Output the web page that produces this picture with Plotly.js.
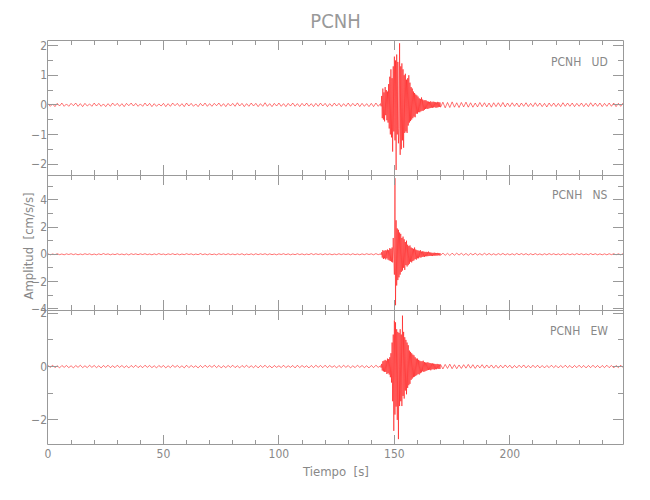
<!DOCTYPE html>
<html>
<head>
<meta charset="utf-8">
<script src="https://cdn.plot.ly/plotly-3.0.1.min.js"></script>
<style>html,body{margin:0;padding:0;background:#fff}#chart{width:650px;height:500px}</style>
</head>
<body>
<div id="chart"></div>
<script>
// Sample grid (seconds)
const quietStep = 1;
const eventStart = 144;
const eventStep = 0.25;
const postStart = 170;
const xRange = [0, 249];
const xTickLabels = ["0", "50", "100", "150", "200"];
const xTickVals = [0, 50, 100, 150, 200];

const stationName = "PCNH";
const channels = ["UD", "NS", "EW"];

// ---------- UD (vertical) ----------
const udPre = [
0.04,-0.05,0.03,-0.06,0.05,-0.04,0.06,-0.05,0.03,-0.05,
0.05,-0.03,0.06,-0.05,0.04,-0.06,0.05,-0.04,0.03,-0.05,
0.06,-0.04,0.05,-0.05,0.03,-0.06,0.04,-0.05,0.06,-0.03,
0.05,-0.05,0.04,-0.06,0.05,-0.03,0.06,-0.04,0.05,-0.05,
0.03,-0.05,0.06,-0.04,0.05,-0.06,0.04,-0.05,0.03,-0.04,
0.05,-0.06,0.04,-0.05,0.06,-0.03,0.05,-0.05,0.04,-0.06,
0.06,-0.04,0.05,-0.05,0.03,-0.06,0.05,-0.04,0.06,-0.05,
0.04,-0.05,0.05,-0.03,0.06,-0.05,0.04,-0.06,0.05,-0.04,
0.05,-0.05,0.07,-0.04,0.05,-0.06,0.04,-0.05,0.06,-0.04,
0.05,-0.06,0.04,-0.05,0.07,-0.05,0.04,-0.06,0.05,-0.04,
0.06,-0.05,0.04,-0.06,0.05,-0.04,0.06,-0.05,0.04,-0.06,
0.05,-0.04,0.06,-0.05,0.04,-0.06,0.05,-0.05,0.06,-0.04,
0.05,-0.06,0.04,-0.05,0.06,-0.04,0.05,-0.06,0.04,-0.05,
0.06,-0.05,0.05,-0.04,0.06,-0.06,0.05,-0.05,0.04,-0.06,
0.05,-0.06,0.06,-0.05,0.04];
const udEvent = [
0.04,-0.05,0.3,-0.45,0.55,-0.5,0.42,-0.56,
0.6,-0.35,0.5,-0.52,0.45,-0.6,0.7,-0.8,
0.95,-1.0,1.2,-1.1,0.9,-1.58,1.3,-0.9,
1.63,-1.2,1.5,-2.2,1.7,-1.0,1.45,-1.3,
-0.8,2.08,-1.69,1.3,-1.5,1.4,-1.2,1.2,
-1.45,1.0,-0.95,1.05,-0.9,0.85,-0.95,0.9,
-0.7,1.0,-0.6,0.75,-0.55,0.6,-0.5,0.55,
-0.45,0.45,-0.4,0.4,-0.42,0.35,-0.3,0.32,
-0.3,0.28,-0.25,0.22,-0.25,0.2,-0.22,0.25,
-0.2,0.18,-0.2,0.15,-0.17,0.16,-0.14,0.15,
-0.13,0.12,-0.14,0.11,-0.12,0.1,-0.11,0.12,
-0.1,0.09,-0.1,0.11,-0.09,0.1,-0.08,0.09,
-0.1,0.08,-0.09,0.1,-0.08,0.09,-0.07,0.08,
-0.08];
const udPost = [
-0.08,0.09,-0.1,0.08,-0.09,0.1,-0.08,0.07,-0.09,0.08,
-0.07,0.09,-0.08,0.07,-0.08,0.06,-0.07,0.08,-0.06,0.07,
-0.07,0.06,-0.08,0.07,-0.06,0.07,-0.06,0.08,-0.07,0.06,
-0.06,0.07,-0.05,0.06,-0.07,0.06,-0.05,0.07,-0.06,0.05,
-0.06,0.07,-0.05,0.06,-0.06,0.05,-0.07,0.06,-0.05,0.06,
-0.06,0.05,-0.06,0.07,-0.05,0.06,-0.05,0.06,-0.06,0.05,
-0.05,0.06,-0.06,0.05,-0.06,0.07,-0.05,0.06,-0.05,0.06,
-0.06,0.05,-0.05,0.06,-0.05,0.06,-0.06,0.05,-0.05,0.06];

// ---------- NS ----------
const nsPre = [
0.03,-0.04,0.02,-0.03,0.04,-0.03,0.02,-0.04,0.03,-0.02,
0.04,-0.03,0.03,-0.04,0.02,-0.03,0.04,-0.02,0.03,-0.04,
0.02,-0.04,0.03,-0.03,0.05,-0.02,0.03,-0.04,0.02,-0.03,
0.04,-0.03,0.02,-0.04,0.03,-0.05,0.04,-0.02,0.03,-0.03,
0.03,-0.02,0.04,-0.03,0.02,-0.04,0.03,-0.03,0.05,-0.02,
0.02,-0.04,0.03,-0.02,0.04,-0.03,0.03,-0.04,0.02,-0.03,
0.04,-0.02,0.03,-0.04,0.02,-0.03,0.05,-0.03,0.03,-0.04,
0.03,-0.03,0.02,-0.04,0.04,-0.02,0.03,-0.03,0.04,-0.03,
0.02,-0.04,0.03,-0.03,0.04,-0.05,0.02,-0.03,0.03,-0.04,
0.04,-0.03,0.03,-0.02,0.04,-0.04,0.03,-0.03,0.02,-0.04,
0.03,-0.02,0.04,-0.03,0.03,-0.04,0.02,-0.03,0.04,-0.03,
0.03,-0.04,0.02,-0.03,0.05,-0.03,0.04,-0.02,0.03,-0.04,
0.04,-0.03,0.03,-0.04,0.02,-0.03,0.04,-0.03,0.03,-0.02,
0.03,-0.04,0.04,-0.03,0.02,-0.04,0.03,-0.03,0.04,-0.02,
0.03,-0.04,0.05,-0.03,0.03];
const nsEvent = [
0.03,-0.04,0.15,-0.25,0.3,-0.35,0.25,-0.3,
0.3,-0.38,0.28,-0.3,0.35,-0.4,0.3,-0.45,
0.45,-0.5,0.4,-0.55,0.5,-0.6,1.2,-1.0,
-1.5,5.6,-3.75,2.5,-2.3,1.9,-1.9,1.8,
-1.7,1.6,-1.5,1.5,-1.3,1.2,-1.2,1.3,
-1.0,1.1,-1.15,0.9,-0.8,1.0,-0.9,0.7,
-0.8,0.6,-0.7,0.65,-0.55,0.5,-0.6,0.45,
-0.5,0.4,-0.45,0.5,-0.35,0.35,-0.4,0.3,
-0.3,0.28,-0.3,0.25,-0.22,0.3,-0.25,0.2,
-0.2,0.22,-0.18,0.2,-0.2,0.17,-0.15,0.18,
-0.15,0.16,-0.14,0.2,-0.13,0.14,-0.12,0.13,
-0.12,0.11,-0.13,0.1,-0.1,0.12,-0.11,0.1,
-0.1,0.09,-0.1,0.1,-0.08,0.09,-0.09,0.08,
-0.08];
const nsPost = [
-0.08,0.09,-0.08,0.07,-0.09,0.08,-0.07,0.08,-0.06,0.07,
-0.07,0.06,-0.08,0.06,-0.05,0.07,-0.06,0.05,-0.06,0.07,
-0.05,0.06,-0.05,0.04,-0.06,0.05,-0.04,0.06,-0.05,0.04,
-0.05,0.04,-0.05,0.06,-0.04,0.05,-0.04,0.05,-0.05,0.04,
-0.04,0.05,-0.04,0.03,-0.05,0.04,-0.04,0.05,-0.03,0.04,
-0.04,0.03,-0.05,0.04,-0.03,0.04,-0.04,0.03,-0.04,0.05,
-0.03,0.04,-0.04,0.03,-0.04,0.05,-0.03,0.04,-0.04,0.03,
-0.04,0.03,-0.04,0.04,-0.03,0.04,-0.04,0.03,-0.04,0.04];

// ---------- EW ----------
const ewPre = [
0.04,-0.03,0.05,-0.04,0.03,-0.05,0.04,-0.03,0.04,-0.04,
0.03,-0.05,0.04,-0.03,0.05,-0.04,0.03,-0.04,0.05,-0.03,
0.04,-0.04,0.03,-0.05,0.04,-0.03,0.05,-0.04,0.03,-0.04,
0.05,-0.03,0.04,-0.04,0.03,-0.05,0.04,-0.03,0.05,-0.04,
0.03,-0.04,0.05,-0.03,0.04,-0.04,0.03,-0.05,0.04,-0.03,
0.04,-0.05,0.03,-0.04,0.05,-0.03,0.04,-0.04,0.03,-0.05,
0.05,-0.04,0.04,-0.03,0.03,-0.05,0.04,-0.04,0.05,-0.03,
0.04,-0.03,0.05,-0.04,0.04,-0.05,0.03,-0.04,0.04,-0.03,
0.05,-0.04,0.03,-0.05,0.04,-0.03,0.05,-0.04,0.03,-0.04,
0.04,-0.05,0.04,-0.03,0.05,-0.04,0.03,-0.05,0.04,-0.03,
0.03,-0.04,0.05,-0.04,0.03,-0.03,0.04,-0.05,0.05,-0.04,
0.04,-0.03,0.03,-0.05,0.04,-0.04,0.05,-0.03,0.04,-0.04,
0.05,-0.04,0.04,-0.03,0.03,-0.05,0.04,-0.04,0.05,-0.03,
0.04,-0.05,0.03,-0.04,0.05,-0.03,0.04,-0.04,0.03,-0.05,
0.04,-0.04,0.05,-0.03,0.03];
const ewEvent = [
0.03,-0.04,0.1,-0.15,0.2,-0.18,0.22,-0.2,
0.25,-0.2,0.22,-0.28,0.3,-0.25,0.28,-0.3,
0.35,-0.4,0.5,-0.6,0.9,-1.3,1.2,-2.41,
1.73,-1.8,1.66,-1.5,1.4,-2.0,1.3,-2.72,
1.26,-1.48,1.4,-1.3,1.2,-1.48,1.91,-1.1,
1.3,-1.2,1.1,-0.9,1.0,-1.04,0.9,-0.8,
0.8,-0.7,0.6,-0.65,0.55,-0.5,0.5,-0.45,
0.45,-0.4,0.42,-0.38,0.35,-0.35,0.3,-0.32,
0.3,-0.28,0.25,-0.3,0.22,-0.25,0.2,-0.22,
0.2,-0.18,0.22,-0.2,0.17,-0.18,0.15,-0.16,
0.15,-0.14,0.16,-0.13,0.14,-0.12,0.13,-0.14,
0.12,-0.11,0.12,-0.1,0.11,-0.12,0.1,-0.1,
0.09,-0.1,0.1,-0.08,0.09,-0.09,0.08,-0.09,
0.08];
const ewPost = [
0.08,-0.09,0.08,-0.07,0.09,-0.08,0.07,-0.08,0.06,-0.07,
0.07,-0.06,0.08,-0.06,0.07,-0.07,0.06,-0.05,0.07,-0.06,
0.06,-0.05,0.06,-0.06,0.05,-0.06,0.05,-0.05,0.06,-0.04,
0.05,-0.06,0.04,-0.05,0.05,-0.04,0.06,-0.05,0.04,-0.05,
0.05,-0.04,0.05,-0.05,0.04,-0.05,0.04,-0.04,0.05,-0.04,
0.04,-0.05,0.04,-0.04,0.05,-0.04,0.04,-0.05,0.04,-0.04,
0.05,-0.04,0.04,-0.05,0.04,-0.04,0.05,-0.04,0.04,-0.05,
0.04,-0.04,0.05,-0.04,0.04,-0.05,0.04,-0.04,0.05,-0.04];

const channelData = [
  {pre: udPre, ev: udEvent, post: udPost, x: 'x',  y: 'y'},
  {pre: nsPre, ev: nsEvent, post: nsPost, x: 'x2', y: 'y2'},
  {pre: ewPre, ev: ewEvent, post: ewPost, x: 'x3', y: 'y3'}
];

const traces = [];
channelData.forEach(c => {
  const base = {type: 'scatter', mode: 'lines', xaxis: c.x, yaxis: c.y,
    line: {color: '#ff0000', width: 0.55}, showlegend: false, hoverinfo: 'skip'};
  traces.push(Object.assign({}, base, {y: c.pre,  x0: 0,          dx: quietStep}));
  traces.push(Object.assign({}, base, {y: c.ev,   x0: eventStart, dx: eventStep}));
  traces.push(Object.assign({}, base, {y: c.post, x0: postStart,  dx: quietStep}));
});

const FONT = 'Liberation Sans Narrow, DejaVu Sans Condensed, Arial Narrow, sans-serif';
const AX = '#999999';
const TXT = '#888888';

function xAxis(anchor, showLabels) {
  return {
    domain: [0, 1], anchor: anchor, range: xRange, autorange: false,
    showline: false, mirror: 'ticks',
    ticks: 'inside', ticklen: 10, tickwidth: 1, tickcolor: AX,
    tickvals: xTickVals, ticktext: xTickLabels,
    minor: {ticks: 'inside', ticklen: 5, tickwidth: 1, tickcolor: AX, dtick: 10, tick0: 0, showgrid: false},
    showticklabels: showLabels, showgrid: false, zeroline: false,
    tickfont: {family: FONT, size: 12, color: TXT}
  };
}
function yAxis(anchor, domain, range, dtick, mdtick) {
  return {
    domain: domain, anchor: anchor, range: range, autorange: false,
    showline: false, mirror: 'ticks',
    ticks: 'inside', ticklen: 10, tickwidth: 1, tickcolor: AX,
    dtick: dtick, tick0: 0,
    minor: {ticks: 'inside', ticklen: 5, tickwidth: 1, tickcolor: AX, dtick: mdtick, tick0: 0, showgrid: false},
    showgrid: false, zeroline: false,
    tickfont: {family: FONT, size: 12, color: TXT}
  };
}

const panelDomains = [[2/3, 1], [1/3, 2/3], [0, 1/3]];
// frame: one outer box plus the two panel separators (half-pixel aligned)
const pxX = 575, pxY = 405;
const shapes = [
  {type: 'rect', xref: 'paper', yref: 'paper', x0: -0.5 / pxX, x1: 1 + 0.5 / pxX, y0: 0.5 / pxY, y1: 1 - 0.5 / pxY,
   line: {color: AX, width: 1}, fillcolor: 'rgba(0,0,0,0)', layer: 'above'},
  {type: 'line', xref: 'paper', yref: 'paper', x0: 0, x1: 1, y0: 1/3 - 0.5 / pxY, y1: 1/3 - 0.5 / pxY,
   line: {color: AX, width: 1}, layer: 'above'},
  {type: 'line', xref: 'paper', yref: 'paper', x0: 0, x1: 1, y0: 2/3 - 0.5 / pxY, y1: 2/3 - 0.5 / pxY,
   line: {color: AX, width: 1}, layer: 'above'}
];

const nb = '\u00a0\u00a0\u00a0';
const layout = {
  width: 650, height: 500,
  margin: {l: 48, r: 27, t: 40, b: 55},
  paper_bgcolor: '#ffffff', plot_bgcolor: '#ffffff',
  font: {family: FONT, color: TXT},
  title: {text: stationName, x: 0.5, xref: 'paper', y: 0.958, yref: 'container', yanchor: 'middle',
          font: {family: FONT, size: 20, color: '#999999'}},
  xaxis: xAxis('y', false),
  xaxis2: xAxis('y2', false),
  xaxis3: xAxis('y3', true),
  yaxis: yAxis('x', panelDomains[0], [-2.37, 2.19], 1, 0.5),
  yaxis2: yAxis('x2', panelDomains[1], [-4.1, 5.83], 2, 1),
  yaxis3: yAxis('x3', panelDomains[2], [-2.94, 2.12], 2, 1),
  shapes: shapes,
  annotations: [
    {text: stationName + nb + channels[0], xref: 'paper', yref: 'paper', x: 0.978, y: 0.946, xanchor: 'right', yanchor: 'middle', showarrow: false, font: {family: FONT, size: 12, color: TXT}},
    {text: stationName + nb + channels[1], xref: 'paper', yref: 'paper', x: 0.978, y: 0.617, xanchor: 'right', yanchor: 'middle', showarrow: false, font: {family: FONT, size: 12, color: TXT}},
    {text: stationName + nb + channels[2], xref: 'paper', yref: 'paper', x: 0.978, y: 0.281, xanchor: 'right', yanchor: 'middle', showarrow: false, font: {family: FONT, size: 12, color: TXT}},
    {text: 'Tiempo  [s]', xref: 'paper', yref: 'paper', x: 0.5, y: -0.066, xanchor: 'center', yanchor: 'middle', showarrow: false, font: {family: FONT, size: 13, color: TXT}},
    {text: 'Amplitud  [cm/s/s]', xref: 'paper', yref: 'paper', x: -0.033, y: 0.49, xanchor: 'center', yanchor: 'middle', textangle: -90, showarrow: false, font: {family: FONT, size: 13, color: TXT}}
  ]
};

Plotly.newPlot('chart', traces, layout, {displayModeBar: false, staticPlot: true});
</script>
</body>
</html>
